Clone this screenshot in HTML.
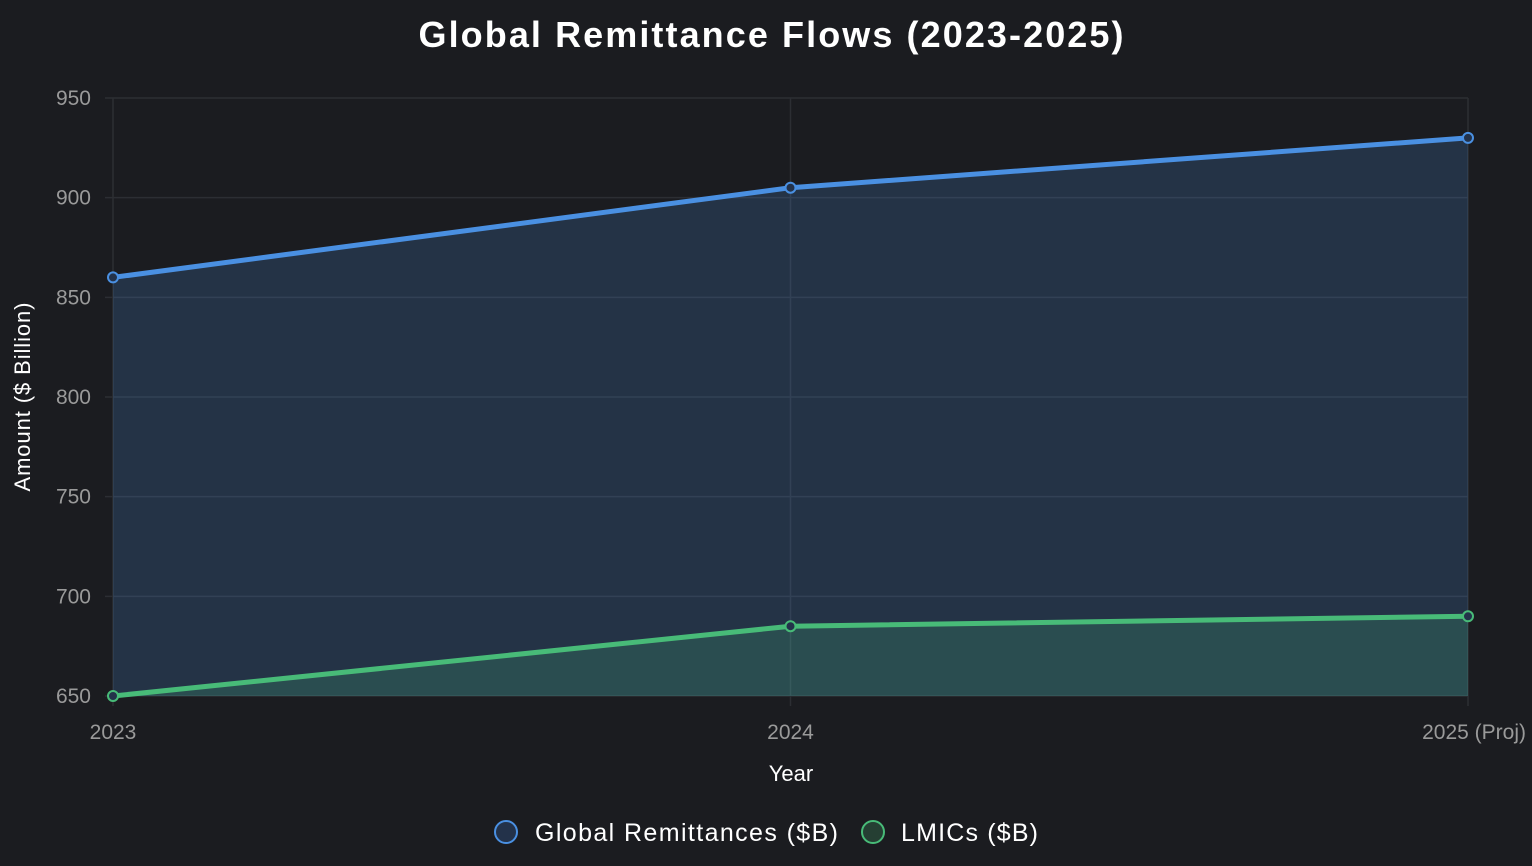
<!DOCTYPE html>
<html><head><meta charset="utf-8"><style>
html,body{margin:0;padding:0;background:#1b1c20;}
svg{display:block;font-family:"Liberation Sans",Arial,sans-serif;}
</style></head><body>
<svg id="c" width="1532" height="866">
<rect width="1532" height="866" fill="#1b1c20"/>
<text x="771" y="47" text-anchor="middle" fill="#fff" font-size="36" font-weight="bold" textLength="705">Global Remittance Flows (2023-2025)</text>
<g id="grid"></g><g id="areas"></g><g id="lines"></g><g id="ticks"></g>
<text x="791" y="781" text-anchor="middle" fill="#fff" font-size="22">Year</text>
<text transform="translate(30,397) rotate(-90)" text-anchor="middle" fill="#fff" font-size="22" textLength="189">Amount ($ Billion)</text>
<g>
<g><circle cx="506" cy="832" r="11" fill="#23324a" stroke="#4a90e2" stroke-width="2"/><text x="535" y="841" fill="#fff" font-size="25" textLength="303">Global Remittances ($B)</text></g>
<g><circle cx="873" cy="832" r="11" fill="#253f33" stroke="#48bb78" stroke-width="2"/><text x="901" y="841" fill="#fff" font-size="25" textLength="137">LMICs ($B)</text></g>
</g>
</svg>
<script>
const categories=["2023","2024","2025 (Proj)"];
const globalValues=[860,905,930];
const lmicValues=[650,685,690];
const yTicks=[650,700,750,800,850,900,950];
const NS="http://www.w3.org/2000/svg";
const x0=113,x1=1468,yTop=98,yBot=696,yMin=650,yMax=950;
const xs=i=>x0+(x1-x0)*i/(categories.length-1);
const ys=v=>yBot-(v-yMin)/(yMax-yMin)*(yBot-yTop);
function mk(tag,attrs,parent){const e=document.createElementNS(NS,tag);for(const k in attrs)e.setAttribute(k,attrs[k]);document.getElementById(parent).appendChild(e);return e;}
yTicks.forEach(v=>{
 const l=mk('line',{x1:x0-8,x2:x1,y1:ys(v),y2:ys(v),stroke:'#2c2e33','stroke-width':1.5},'grid');
 
 
 const t=mk('text',{x:91,y:ys(v)+7,'text-anchor':'end',fill:'#9a9a9a','font-size':21},'ticks');
 t.textContent=v;
 
 
});
categories.forEach((c,i)=>{
 const l=mk('line',{x1:xs(i),x2:xs(i),y1:yTop,y2:yBot+10,stroke:'#2c2e33','stroke-width':1.5},'grid');
 
 
 const last=i===categories.length-1;
 const t=mk('text',{x:last?1526:xs(i),y:739,'text-anchor':last?'end':'middle',fill:'#9a9a9a','font-size':21},'ticks');
 t.textContent=c;
 
 
});
function series(vals,stroke,fill,name){
 const pts=vals.map((v,i)=>[xs(i),ys(v)]);
 const a=mk('path',{d:'M'+pts.map(p=>p.join(',')).join('L')+`L${xs(vals.length-1)},${yBot}L${x0},${yBot}Z`,fill:fill},'areas');
 
 
 const l=mk('polyline',{points:pts.map(p=>p.join(',')).join(' '),fill:'none',stroke:stroke,'stroke-width':5,'stroke-linejoin':'round'},'lines');
 
 
 pts.forEach(p=>{
  const c=mk('circle',{cx:p[0],cy:p[1],r:5,fill:'#23324a',stroke:stroke,'stroke-width':2},'lines');
  
  
 });
}
series(globalValues,'#4a90e2','rgba(74,144,226,0.2)','global');
series(lmicValues,'#48bb78','rgba(72,187,120,0.2)','lmics');
</script>
</body></html>
